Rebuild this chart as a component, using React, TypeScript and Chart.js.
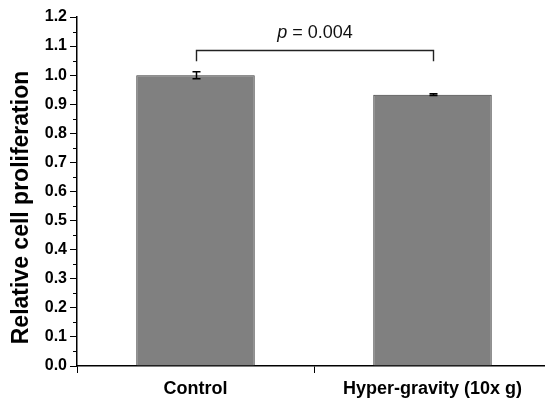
import React, { useEffect, useRef } from "react";
import { Chart, registerables } from "chart.js";

Chart.register(...registerables);

const categories = ["Control", "Hyper-gravity (10x g)"];
const means = [1.0, 0.933];
const errors = [0.012, 0.003];
const yMin = 0;
const yMax = 1.2;
const yStep = 0.1;
const yTitle = "Relative cell proliferation";
const pValueText = " = 0.004";
const bracketTop = 1.085;
const bracketLeg = 1.048;

const FONT = "'Liberation Sans', Arial, sans-serif";

const overlay = {
  id: "overlay",
  afterDraw(chart: any) {
    const ctx: CanvasRenderingContext2D = chart.ctx;
    const xs = chart.scales.x;
    const ys = chart.scales.y;
    const area = chart.chartArea;
    ctx.save();

    // error bars
    ctx.strokeStyle = "#000";
    ctx.lineWidth = 1.5;
    means.forEach((m, i) => {
      const cx = Math.round(xs.getPixelForValue(i)) + 0.5;
      const top = ys.getPixelForValue(m + errors[i]);
      const bot = ys.getPixelForValue(m - errors[i]);
      ctx.beginPath();
      ctx.moveTo(cx, top);
      ctx.lineTo(cx, bot);
      ctx.moveTo(cx - 4, top);
      ctx.lineTo(cx + 4, top);
      ctx.moveTo(cx - 4, bot);
      ctx.lineTo(cx + 4, bot);
      ctx.stroke();
    });

    // bracket
    const x0 = Math.round(xs.getPixelForValue(0)) + 0.5;
    const x1 = Math.round(xs.getPixelForValue(1)) + 0.5;
    const yt = Math.round(ys.getPixelForValue(bracketTop)) + 0.5;
    const yl = ys.getPixelForValue(bracketLeg);
    ctx.strokeStyle = "#222";
    ctx.lineWidth = 1.4;
    ctx.beginPath();
    ctx.moveTo(x0, yl);
    ctx.lineTo(x0, yt);
    ctx.lineTo(x1, yt);
    ctx.lineTo(x1, yl);
    ctx.stroke();

    // p-value text
    ctx.fillStyle = "#111";
    ctx.textBaseline = "alphabetic";
    ctx.textAlign = "left";
    ctx.font = `italic 18px ${FONT}`;
    const wp = ctx.measureText("p").width;
    ctx.font = `18px ${FONT}`;
    const wr = ctx.measureText(pValueText).width;
    const startX = (x0 + x1) / 2 - (wp + wr) / 2;
    const by = yt - 13;
    ctx.font = `italic 18px ${FONT}`;
    ctx.fillText("p", startX, by);
    ctx.font = `18px ${FONT}`;
    ctx.fillText(pValueText, startX + wp, by);

    // minor ticks
    ctx.strokeStyle = "#000";
    ctx.lineWidth = 1;
    const ticks = ys.ticks;
    for (let i = 0; i < ticks.length - 1; i++) {
      const mid = (ticks[i].value + ticks[i + 1].value) / 2;
      const py = Math.round(ys.getPixelForValue(mid)) + 0.5;
      ctx.beginPath();
      ctx.moveTo(area.left - 4, py);
      ctx.lineTo(area.left, py);
      ctx.stroke();
    }

    // y title
    ctx.save();
    ctx.translate(22, (area.top + area.bottom) / 2 + 16);
    ctx.rotate(-Math.PI / 2);
    ctx.font = `bold 23px ${FONT}`;
    ctx.fillStyle = "#000";
    ctx.textAlign = "center";
    ctx.textBaseline = "middle";
    ctx.fillText(yTitle, 0, 0);
    ctx.restore();

    ctx.restore();
  },
};

export default function App() {
  const ref = useRef<HTMLCanvasElement | null>(null);

  useEffect(() => {
    if (!ref.current) return;
    const chart = new Chart(ref.current, {
      type: "bar",
      data: {
        labels: categories,
        datasets: [
          {
            data: means,
            backgroundColor: "#808080",
            borderColor: "#3a3a3a",
            borderWidth: 1,
            barPercentage: 0.5,
            categoryPercentage: 1,
          },
        ],
      },
      options: {
        animation: false,
        responsive: false,
        devicePixelRatio: 1,
        layout: { padding: { top: 17, right: 1, left: 0, bottom: 0 } },
        plugins: {
          legend: { display: false },
          tooltip: { enabled: false },
        },
        scales: {
          x: {
            offset: true,
            grid: {
              display: true,
              offset: true,
              drawOnChartArea: false,
              drawTicks: true,
              tickLength: 7,
              color: "#000",
            },
            border: { display: true, color: "#000", width: 1.5 },
            ticks: {
              color: "#000",
              font: { family: FONT, size: 18, weight: "bold" },
              padding: 5,
              maxRotation: 0,
              autoSkip: false,
            },
            afterFit: (s: any) => {
              s.height = 33;
            },
          },
          y: {
            min: yMin,
            max: yMax,
            grid: {
              display: true,
              drawOnChartArea: false,
              drawTicks: true,
              tickLength: 7,
              color: "#000",
            },
            border: { display: true, color: "#000", width: 1.5 },
            ticks: {
              stepSize: yStep,
              color: "#000",
              font: { family: FONT, size: 16, weight: "bold" },
              padding: 3,
              callback: (v: any) => Number(v).toFixed(1),
            },
            afterFit: (s: any) => {
              s.width = 77;
            },
          },
        },
      },
      plugins: [overlay],
    });
    return () => chart.destroy();
  }, []);

  return (
    <div
      style={{
        position: "absolute",
        left: 0,
        top: 0,
        width: 545,
        height: 399,
        overflow: "hidden",
        background: "#fff",
      }}
    >
      <canvas ref={ref} width={552} height={399} style={{ display: "block" }} />
    </div>
  );
}
